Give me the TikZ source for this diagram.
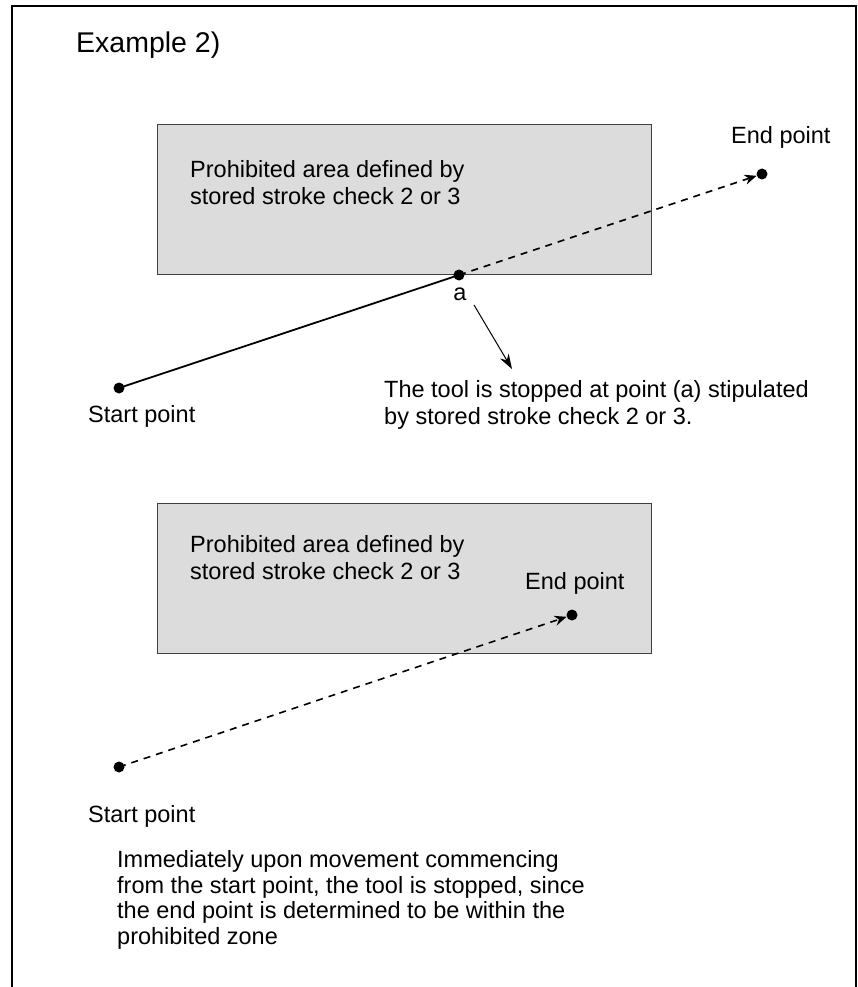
\documentclass[tikz,border=0pt]{standalone}
\usepackage{fontspec}
\setmainfont{Liberation Sans}
\usetikzlibrary{arrows.meta}
\definecolor{areagray}{HTML}{DCDCDC}
\tikzset{
  txt/.style={anchor=west, inner sep=0pt, font=\fontsize{23.5}{27}\selectfont, align=left},
  lbl/.style={anchor=base west, inner sep=0pt, font=\fontsize{23.5}{27}\selectfont},
  dot/.style={circle, fill=black, inner sep=0pt, minimum size=11pt},
  area/.style={fill=areagray, draw=black!75, line width=1.3pt},
  path/.style={line width=1.6pt, dash pattern=on 7pt off 6pt, -{Stealth[length=12pt,width=10pt]}},
  solidpath/.style={line width=1.8pt},
  callout/.style={line width=1pt, -{Stealth[length=15pt,width=10pt]}},
  frame/.style={line width=2pt}
}
\begin{document}
\begin{tikzpicture}[x=1pt,y=-1pt]
\useasboundingbox (0,0) rectangle (858,987);
\draw[frame] (12,987) -- (12,6) -- (856,6) -- (856,987);
\node[lbl, font=\fontsize{28.5}{32}\selectfont] (title) at (76,53) {Example 2)};
% first case
\node[area, draw, minimum width=494pt, minimum height=150pt, anchor=north west, inner sep=0pt] (box1) at (157,124) {};
\node[txt] (box1t) at (190,183) {Prohibited area defined by\\stored stroke check 2 or 3};
\node[dot] (end1) at (762,174) {};
\node[lbl] (end1t) at (731,144) {End point};
\node[dot] (a) at (459,275) {};
\node[anchor=base, inner sep=0pt, font=\fontsize{23.5}{27}\selectfont] (at) at (460,300) {a};
\node[dot] (start1) at (119,388) {};
\node[lbl] (start1t) at (88,422) {Start point};
\draw[solidpath] (start1.center) -- (a.center);
\draw[path] (a.center) -- (end1);
\node[txt] (note1) at (384,405) {The tool is stopped at point (a) stipulated\\by stored stroke check 2 or 3.};
\coordinate (cfrom) at (474,305);
\coordinate (cto) at (512,369);
\draw[callout] (cfrom) -- (cto);
% second case
\node[area, draw, minimum width=494pt, minimum height=150pt, anchor=north west, inner sep=0pt] (box2) at (157,503) {};
\node[txt] (box2t) at (190,558) {Prohibited area defined by\\stored stroke check 2 or 3};
\node[dot] (end2) at (572,615) {};
\node[lbl] (end2t) at (525,589) {End point};
\node[dot] (start2) at (119,767) {};
\node[lbl] (start2t) at (88,822) {Start point};
\draw[path] (start2.center) -- (end2);
\node[txt, font=\fontsize{23.5}{25.7}\selectfont] (note2) at (117,900) {Immediately upon movement commencing\\from the start point, the tool is stopped, since\\the end point is determined to be within the\\prohibited zone};
\end{tikzpicture}
\end{document}
